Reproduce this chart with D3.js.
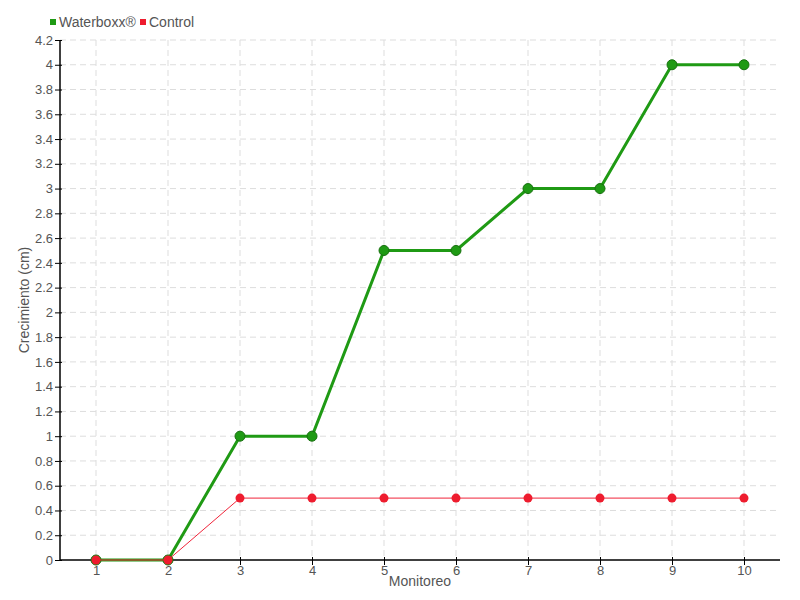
<!DOCTYPE html>
<html><head><meta charset="utf-8">
<script src="https://cdn.jsdelivr.net/npm/d3@7"></script>
<style>body{margin:0;background:#fff}svg{display:block}text{font-family:"Liberation Sans Narrow","Liberation Sans",Arial,sans-serif}</style>
</head><body><svg id="c" width="800" height="600"></svg>
<script>
const categories = [1,2,3,4,5,6,7,8,9,10];
const waterboxx = [0,0,1,1,2.5,2.5,3,3,4,4];
const control = [0,0,0.5,0.5,0.5,0.5,0.5,0.5,0.5,0.5];
const yTicks = [0,0.2,0.4,0.6,0.8,1,1.2,1.4,1.6,1.8,2,2.2,2.4,2.6,2.8,3,3.2,3.4,3.6,3.8,4,4.2];
const seriesNames = ["Waterboxx®","Control"];

const svg = d3.select("#c");
const L=60,R=780,T=40,B=560;
const x = d3.scalePoint().domain(categories).range([L,R]).padding(0.5);
const y = d3.scaleLinear().domain([0,4.2]).range([B,T]);

const grid = svg.append("g").attr("stroke","#ddd").attr("stroke-dasharray","6,4").attr("stroke-width",1);
yTicks.forEach(t=>{ if(t>0) grid.append("line").attr("x1",L).attr("x2",R).attr("y1",y(t)).attr("y2",y(t)); });
categories.forEach(c=>grid.append("line").attr("x1",x(c)).attr("x2",x(c)).attr("y1",T).attr("y2",B));

const ya = svg.append("g").attr("transform",`translate(${L},0)`)
  .call(d3.axisLeft(y).tickValues(yTicks).tickFormat(d=>String(d)).tickSize(5).tickPadding(2));
ya.select(".domain").attr("stroke","#000").attr("stroke-width",1.5).attr("d",`M0,${T}V${B}`);
ya.selectAll(".tick line").attr("stroke","#000").attr("x2",-5).attr("x1",2);
ya.selectAll(".tick text").attr("fill","#555").style("font-size","13px");

const xa = svg.append("g").attr("transform",`translate(0,${B})`)
  .call(d3.axisBottom(x).tickSize(5).tickPadding(1));
xa.select(".domain").attr("stroke","#000").attr("stroke-width",1.5).attr("d",`M${L},0H${R}`);
xa.selectAll(".tick line").attr("stroke","#000").attr("y1",-3).attr("y2",5);
xa.selectAll(".tick text").attr("fill","#555").style("font-size","13px");

svg.append("text").attr("x",420).attr("y",586).attr("text-anchor","middle").attr("fill","#555").style("font-size","14px").text("Monitoreo");
svg.append("text").attr("transform","translate(29,300) rotate(-90)").attr("text-anchor","middle").attr("fill","#555").style("font-size","14px").text("Crecimiento (cm)");

const line = d3.line().x((d,i)=>x(categories[i])).y(d=>y(d));
svg.append("path").datum(waterboxx).attr("d",line).attr("fill","none").attr("stroke","#1f9a14").attr("stroke-width",3);
svg.append("g").selectAll("circle").data(waterboxx).join("circle")
  .attr("cx",(d,i)=>x(categories[i])).attr("cy",d=>y(d)).attr("r",5).attr("fill","#1f9a14").attr("stroke","#17700f").attr("stroke-width",1);
svg.append("path").datum(control).attr("d",line).attr("fill","none").attr("stroke","#f0243a").attr("stroke-width",1);
svg.append("g").selectAll("circle").data(control).join("circle")
  .attr("cx",(d,i)=>x(categories[i])).attr("cy",d=>y(d)).attr("r",4.5).attr("fill","#ee1c2e");

const leg = svg.append("g");
const legColors = ["#1f9a14","#ee1c2e"];
const legX = [50,140];
seriesNames.forEach((n,i)=>{
  leg.append("rect").attr("x",legX[i]).attr("y",19).attr("width",6).attr("height",6).attr("fill",legColors[i]);
  leg.append("text").attr("x",legX[i]+9).attr("y",27).attr("fill","#555").style("font-size","14px").text(n);
});
</script></body></html>
